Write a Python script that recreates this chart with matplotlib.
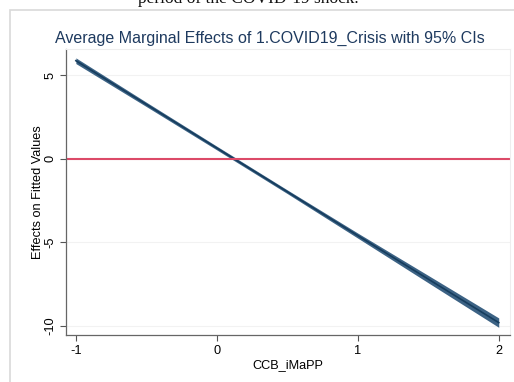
import matplotlib
matplotlib.use("Agg")
import matplotlib.pyplot as plt
from matplotlib.patches import Rectangle

# Data
ccb = [-1.0, -0.5, 0.0, 0.5, 1.0, 1.5, 2.0]
effect = [5.85, 3.24, 0.63, -1.98, -4.60, -7.20, -9.80]
ci_low = [5.68, 3.11, 0.52, -2.09, -4.75, -7.42, -10.08]
ci_high = [6.02, 3.37, 0.74, -1.87, -4.45, -6.98, -9.52]
xticks = [-1, 0, 1, 2]
yticks = [-10, -5, 0, 5]

navy = "#1a476f"
fig = plt.figure(figsize=(5.14, 3.82), dpi=100)
fig.patch.set_facecolor("white")

# outer frame of the graph
fig.patches.append(Rectangle((10/514, -0.1), 1.2, (382-10)/382 + 0.1,
                             transform=fig.transFigure, fill=False,
                             edgecolor="#d9d9d9", linewidth=1.2))
# partially visible caption above the graph
fig.text(248/514, 1 - 3/382, "period of the COVID-19 shock.", ha="center",
         va="baseline", fontsize=12.5, family="Liberation Serif", color="#111111")

ax = fig.add_axes([66/514, 47/382, (510-66)/514, (334-48)/382])
ax.fill_between(ccb, ci_low, ci_high, color=navy, alpha=0.85, linewidth=0)
ax.plot(ccb, effect, color="#163d5e", linewidth=1.2)
ax.axhline(0, color="#dc4a68", linewidth=1.5)

ax.set_xlim(-1.07, 2.08)
ax.set_ylim(-10.54, 6.55)
ax.set_xticks(xticks)
ax.set_yticks(yticks)
ax.set_xticklabels([str(t) for t in xticks], fontsize=9.2, family="Liberation Sans")
ax.set_yticklabels([str(t) for t in yticks], fontsize=9.2, family="Liberation Sans",
                   rotation=90, va="center")
ax.tick_params(length=4, color="#555555", width=0.8, pad=3)
ax.grid(axis="y", color="#f2f2f2", linewidth=0.8)
ax.set_axisbelow(True)
for s in ["top", "right"]:
    ax.spines[s].set_color("#eeeeee")
    ax.spines[s].set_linewidth(0.8)
for s in ["left", "bottom"]:
    ax.spines[s].set_color("#666666")
    ax.spines[s].set_linewidth(0.9)

ax.set_xlabel("CCB_iMaPP", fontsize=9.2, family="Liberation Sans", labelpad=2)
ax.set_ylabel("Effects on Fitted Values", fontsize=9.2, family="Liberation Sans", labelpad=0)
fig.text(270/514, 1 - 38/382, "Average Marginal Effects of 1.COVID19_Crisis with 95% CIs",
         ha="center", va="center", fontsize=11.5, family="Liberation Sans", color="#1e3a5f")

fig.savefig("out.png", dpi=100)
